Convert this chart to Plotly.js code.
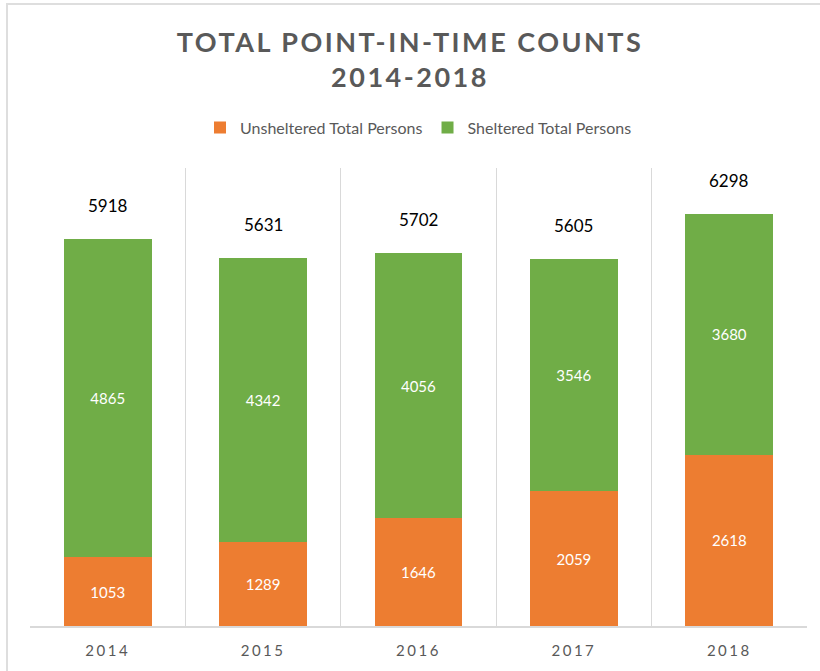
<!DOCTYPE html>
<html>
<head>
<meta charset="utf-8">
<script src="https://cdn.plot.ly/plotly-3.0.1.min.js"></script>
<style>
  html, body { margin: 0; padding: 0; background: #fff; }
  #wrap { position: relative; width: 820px; height: 671px; }
  #chart { width: 820px; height: 671px; }
  #frameTop { position: absolute; left: 6px; top: 3px; width: 814px; height: 2px; background: #dedede; }
  #frameLeft { position: absolute; left: 6px; top: 3px; width: 2px; height: 668px; background: #dedede; }
  .gtitle { letter-spacing: 2.5px; }
  .xtick text { letter-spacing: 2.5px; }
</style>
</head>
<body>
<div id="wrap">
  <div id="chart"></div>
  <div id="frameTop"></div>
  <div id="frameLeft"></div>
</div>
<script>
const years = ['2014', '2015', '2016', '2017', '2018'];
const unsheltered = [1053, 1289, 1646, 2059, 2618];
const sheltered = [4865, 4342, 4056, 3546, 3680];
const totals = [5918, 5631, 5702, 5605, 6298];

const orange = '#ED7D31';
const green = '#70AD47';
const font = 'Lato, "Open Sans", sans-serif';

const traces = [
  {
    type: 'bar', name: 'Unsheltered Total Persons', x: years, y: unsheltered,
    marker: { color: orange },
    text: unsheltered.map(String), textposition: 'inside', insidetextanchor: 'middle',
    textfont: { color: '#ffffff', size: 15, family: font },
    hoverinfo: 'x+y+name'
  },
  {
    type: 'bar', name: 'Sheltered Total Persons', x: years, y: sheltered,
    marker: { color: green },
    text: sheltered.map(String), textposition: 'inside', insidetextanchor: 'middle',
    textfont: { color: '#ffffff', size: 15, family: font },
    hoverinfo: 'x+y+name'
  }
];

const annotations = years.map((yr, i) => ({
  x: i, y: totals[i], xref: 'x', yref: 'y',
  text: String(totals[i]), showarrow: false,
  yanchor: 'bottom', yshift: 21,
  font: { size: 17, color: '#000000', family: font }
}));

const layout = {
  width: 820, height: 671,
  margin: { l: 30, r: 13, t: 168, b: 45 },
  paper_bgcolor: '#ffffff', plot_bgcolor: '#ffffff',
  barmode: 'stack', bargap: 0.435,
  title: {
    text: '<b>TOTAL POINT-IN-TIME COUNTS<br>2014-2018</b>',
    x: 0.5, xanchor: 'center', y: 0.922, yanchor: 'top',
    font: { family: font, size: 27, color: '#595959' }
  },
  legend: {
    orientation: 'h', x: 0.5, xanchor: 'center', y: 1.088, yanchor: 'middle',
    font: { family: font, size: 16, color: '#595959' },
    traceorder: 'normal', itemwidth: 30
  },
  xaxis: {
    type: 'category', tickson: 'boundaries', ticks: '',
    showgrid: true, gridcolor: '#d9d9d9', gridwidth: 1,
    showline: true, linecolor: '#d9d9d9', linewidth: 1.5,
    tickfont: { family: font, size: 15, color: '#595959' },
    ticklabelstandoff: 10,
    fixedrange: true
  },
  yaxis: {
    range: [0, 7000], visible: false, showgrid: false, zeroline: false, fixedrange: true
  },
  annotations: annotations,
  showlegend: true
};

Plotly.newPlot('chart', traces, layout, { displayModeBar: false, staticPlot: true });
</script>
</body>
</html>
